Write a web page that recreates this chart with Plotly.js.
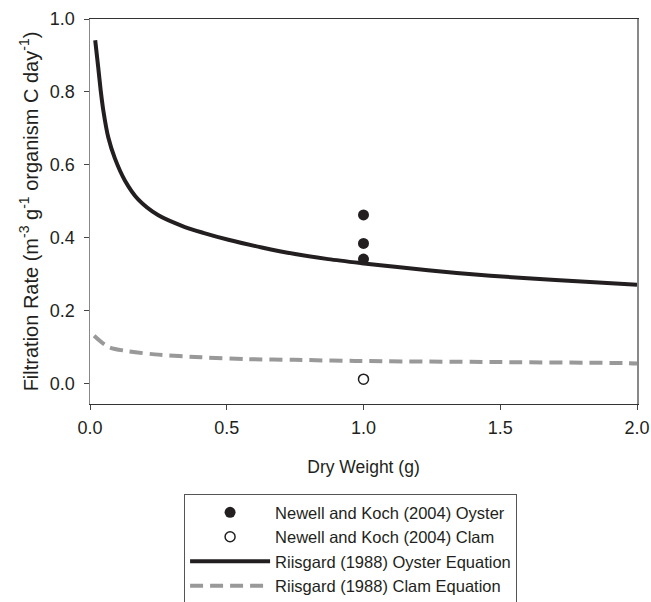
<!DOCTYPE html>
<html>
<head>
<meta charset="utf-8">
<script src="https://cdn.plot.ly/plotly-3.0.1.min.js"></script>
<style>
html,body{margin:0;padding:0;background:#fff;}
#chart{width:651px;height:602px;}
</style>
</head>
<body>
<div id="chart"></div>
<script>
// Newell and Koch (2004) observations
const oysterObsX = [1.0, 1.0, 1.0];
const oysterObsY = [0.463, 0.385, 0.342];
const clamObsX = [1.0];
const clamObsY = [0.013];

// Riisgard (1988) oyster equation curve
const oysterEqX = [0.019, 0.030, 0.039, 0.049, 0.067, 0.091, 0.128, 0.177, 0.250, 0.347, 0.414, 0.506, 0.628, 0.750, 0.871, 0.993, 1.115, 1.341, 1.585, 1.828, 2.0];
const oysterEqY = [0.942, 0.868, 0.805, 0.748, 0.675, 0.618, 0.557, 0.505, 0.462, 0.430, 0.414, 0.395, 0.374, 0.356, 0.342, 0.331, 0.321, 0.304, 0.290, 0.279, 0.272];

// Riisgard (1988) clam equation curve
const clamEqX = [0.015, 0.066, 0.127, 0.237, 0.407, 0.578, 0.748, 0.968, 1.475, 1.962, 2.0];
const clamEqY = [0.132, 0.102, 0.091, 0.081, 0.073, 0.068, 0.066, 0.063, 0.060, 0.057, 0.056];

// Tick labels
const xTicks = [0.0, 0.5, 1.0, 1.5, 2.0];
const xTickText = ["0.0", "0.5", "1.0", "1.5", "2.0"];
const yTicks = [0.0, 0.2, 0.4, 0.6, 0.8, 1.0];
const yTickText = ["0.0", "0.2", "0.4", "0.6", "0.8", "1.0"];

const FONT = "Liberation Sans, Arial, sans-serif";
const INK = "#231f20";

const traces = [
  {
    x: oysterObsX, y: oysterObsY, mode: "markers", type: "scatter",
    name: "Newell and Koch (2004) Oyster",
    marker: {color: INK, size: 11, symbol: "circle"}
  },
  {
    x: clamObsX, y: clamObsY, mode: "markers", type: "scatter",
    name: "Newell and Koch (2004) Clam",
    marker: {color: "#ffffff", size: 10, symbol: "circle", line: {color: INK, width: 1.5}}
  },
  {
    x: oysterEqX, y: oysterEqY, mode: "lines", type: "scatter",
    name: "Riisgard (1988) Oyster Equation",
    line: {color: INK, width: 4, shape: "spline", smoothing: 0.8}
  },
  {
    x: clamEqX, y: clamEqY, mode: "lines", type: "scatter",
    name: "Riisgard (1988) Clam Equation",
    line: {color: "#999999", width: 4, dash: "13px,7px", shape: "spline", smoothing: 0.8}
  }
];

const layout = {
  width: 651, height: 602,
  margin: {l: 90, r: 14, t: 19, b: 198, autoexpand: false},
  paper_bgcolor: "#ffffff",
  plot_bgcolor: "#ffffff",
  font: {family: FONT, size: 18, color: INK},
  showlegend: true,
  xaxis: {
    range: [0, 2.0],
    tickvals: xTicks, ticktext: xTickText,
    ticks: "outside", ticklen: 5, tickcolor: "#444",
    ticklabelstandoff: 2,
    showline: true, linecolor: "#333", linewidth: 1.2, mirror: true,
    showgrid: false, zeroline: false, automargin: false,
    tickfont: {family: FONT, size: 18, color: INK},
    title: {text: "Dry Weight (g)", font: {family: FONT, size: 17.5, color: INK}, standoff: 24}
  },
  yaxis: {
    range: [-0.055, 1.0],
    tickvals: yTicks, ticktext: yTickText,
    ticks: "outside", ticklen: 5, tickcolor: "#444",
    ticklabelstandoff: 5,
    showline: true, linecolor: "#888", linewidth: 1.5, mirror: true,
    showgrid: false, zeroline: false, automargin: false,
    tickfont: {family: FONT, size: 18, color: INK},
    title: {text: "Filtration Rate (m<sup>-3</sup> g<sup>-1</sup> organism C day<sup>-1</sup>)", font: {family: FONT, size: 20, color: INK}, standoff: 6}
  },
  legend: {
    x: 0.172, y: -0.234, xanchor: "left", yanchor: "top",
    bgcolor: "#ffffff", bordercolor: "#555", borderwidth: 1,
    font: {family: FONT, size: 16.5, color: INK},
    itemwidth: 80,
    tracegroupgap: 0
  }
};

Plotly.newPlot("chart", traces, layout, {displayModeBar: false, staticPlot: true});
</script>
</body>
</html>
